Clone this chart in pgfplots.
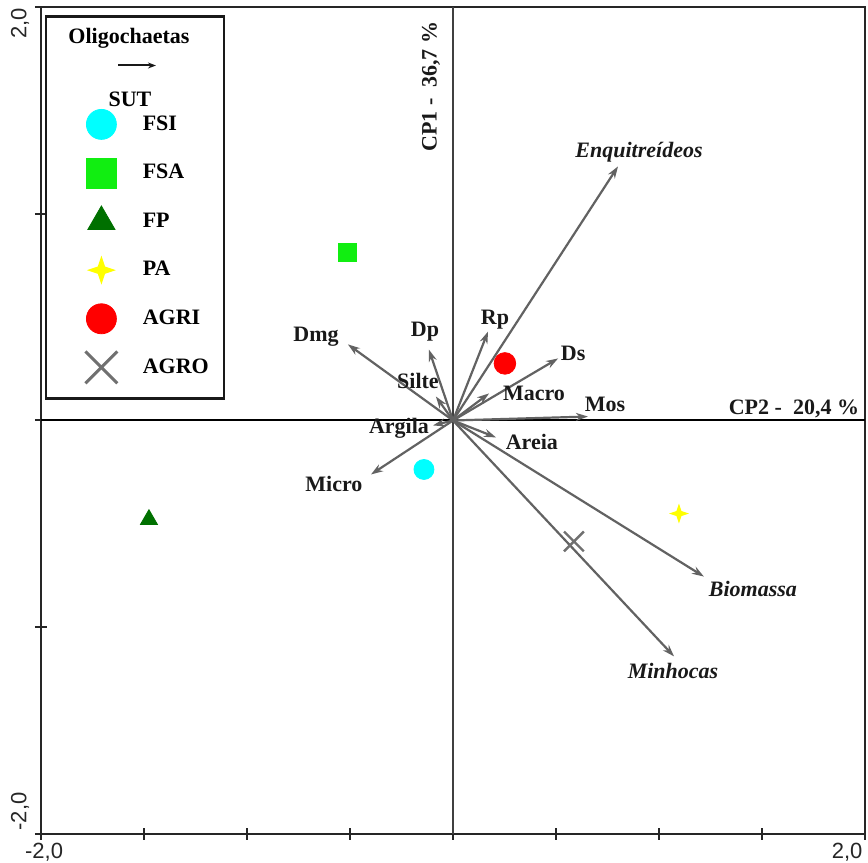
\documentclass[border=0pt]{standalone}
\usepackage{fontspec}
\setmainfont{Liberation Serif}
\setsansfont{Liberation Sans}
\usepackage{pgfplots}
\pgfplotsset{compat=1.18}
\usetikzlibrary{arrows.meta}
\definecolor{cFSI}{HTML}{00FFFF}
\definecolor{cFSA}{HTML}{11EE11}
\definecolor{cFP}{HTML}{007000}
\definecolor{cPA}{HTML}{FFFF00}
\definecolor{cAGRI}{HTML}{FF0000}
\definecolor{cAGRO}{HTML}{707070}
\definecolor{arr}{HTML}{626262}
\pgfdeclareplotmark{star4}{%
 \pgfpathmoveto{\pgfqpoint{0pt}{\pgfplotmarksize}}%
 \pgfpathlineto{\pgfqpoint{0.25\pgfplotmarksize}{0.25\pgfplotmarksize}}%
 \pgfpathlineto{\pgfqpoint{\pgfplotmarksize}{0pt}}%
 \pgfpathlineto{\pgfqpoint{0.25\pgfplotmarksize}{-0.25\pgfplotmarksize}}%
 \pgfpathlineto{\pgfqpoint{0pt}{-\pgfplotmarksize}}%
 \pgfpathlineto{\pgfqpoint{-0.25\pgfplotmarksize}{-0.25\pgfplotmarksize}}%
 \pgfpathlineto{\pgfqpoint{-\pgfplotmarksize}{0pt}}%
 \pgfpathlineto{\pgfqpoint{-0.25\pgfplotmarksize}{0.25\pgfplotmarksize}}%
 \pgfpathclose\pgfusepathqfill}
\newcommand{\lbl}{\fontsize{11}{13}\selectfont\bfseries}
\begin{document}
\begin{tikzpicture}
\begin{axis}[
  scale only axis, width=412pt, height=413.5pt,
  xmin=-2, xmax=2, ymin=-2, ymax=2,
  clip=false,
  axis line style={black!85, line width=1pt},
  xtick={-2,-1.5,...,2}, ytick={-2,-1,0,1,2},
  xticklabels={}, yticklabels={},
  tick pos=left, tick align=center, major tick length=6pt,
  tick style={black!85, line width=1pt},
  legend cell align=left,
  legend style={at={(rel axis cs:0,1)}, anchor=north west, xshift=20pt, yshift=-50.5pt,
    draw=none, fill=none, inner sep=0pt, outer sep=0pt, row sep=7.9pt, column sep=10.5pt,
    nodes={inner sep=0pt, anchor=west, font=\lbl}},
  legend image code/.code={\path (-10pt,-8pt) (10pt,8pt); \path[#1] plot coordinates {(0pt,0pt)};},
]
\addlegendimage{only marks, mark=*, mark size=7.5pt, color=cFSI}
\addlegendimage{only marks, mark=square*, mark size=7.5pt, color=cFSA}
\addlegendimage{only marks, mark=triangle*, mark size=7.8pt, color=cFP}
\addlegendimage{only marks, mark=star4, mark size=7.25pt, color=cPA}
\addlegendimage{only marks, mark=*, mark size=7.5pt, color=cAGRI}
\addlegendimage{only marks, mark=x, mark size=11.3pt, color=cAGRO, mark options={line width=1.5pt}}
\legend{FSI,FSA,FP,PA,AGRI,AGRO}

% legend frame and header
\draw[black!90, line width=1.2pt, fill=white] (axis cs:-1.976,1.954) rectangle (axis cs:-1.112,0.106);
\node[font=\lbl] at (axis cs:-1.573,1.848) {Oligochaetas};
\draw[black!90, line width=1pt, -{Stealth[length=4pt,width=3pt]}] (axis cs:-1.626,1.717) -- (axis cs:-1.442,1.717);
\node[font=\lbl] at (axis cs:-1.568,1.553) {SUT};

% central axes
\draw[black!75, line width=1pt] (axis cs:0,-2) -- (axis cs:0,2);
\draw[black, line width=1pt] (axis cs:-2,0) -- (axis cs:2,0);

% variable vectors
\addplot[forget plot, arr, line width=1.1pt, -{Stealth[length=6pt,width=4pt]},
  quiver={u=\thisrow{u}, v=\thisrow{v}}] table {
x y u v
0 0 0.801 1.229
0 0 1.218 -0.755
0 0 1.073 -1.141
0 0 -0.510 0.368
0 0 -0.117 0.343
0 0 0.170 0.430
0 0 0.510 0.300
0 0 0.175 0.131
0 0 0.655 0.019
0 0 -0.083 0.116
0 0 -0.097 -0.024
0 0 -0.398 -0.261
0 0 0.209 -0.082
};

% sites
\addplot[forget plot, only marks, mark=*, mark size=5pt, color=cFSI] coordinates {(-0.141,-0.237)};
\addplot[forget plot, only marks, mark=square*, mark size=4.5pt, color=cFSA] coordinates {(-0.515,0.813)};
\addplot[forget plot, only marks, mark=triangle*, mark size=4.9pt, color=cFP] coordinates {(-1.476,-0.479)};
\addplot[forget plot, only marks, mark=star4, mark size=5pt, color=cPA] coordinates {(1.097,-0.450)};
\addplot[forget plot, only marks, mark=*, mark size=5.4pt, color=cAGRI] coordinates {(0.252,0.276)};
\addplot[forget plot, only marks, mark=x, mark size=7pt, color=cAGRO, mark options={line width=1.2pt}] coordinates {(0.587,-0.585)};

% vector labels
\begin{scope}[every node/.style={font=\lbl, text=black!90, inner sep=0pt}]
\node[font=\lbl\itshape] at (axis cs:0.903,1.296) {Enquitreídeos};
\node[font=\lbl\itshape] at (axis cs:1.456,-0.813) {Biomassa};
\node[font=\lbl\itshape] at (axis cs:1.068,-1.214) {Minhocas};
\node at (axis cs:-0.665,0.406) {Dmg};
\node at (axis cs:-0.136,0.430) {Dp};
\node at (axis cs:0.204,0.489) {Rp};
\node at (axis cs:0.583,0.324) {Ds};
\node at (axis cs:0.393,0.131) {Macro};
\node at (axis cs:0.738,0.077) {Mos};
\node at (axis cs:-0.170,0.193) {Silte};
\node at (axis cs:-0.262,-0.039) {Argila};
\node at (axis cs:-0.578,-0.305) {Micro};
\node at (axis cs:0.383,-0.102) {Areia};
\node[rotate=90] at (axis cs:-0.107,1.615) {CP1 -\ \ 36,7 \%};
\node at (axis cs:1.655,0.058) {CP2 -\ \ 20,4 \%};
\end{scope}

% tick labels
\begin{scope}[every node/.style={font=\sffamily\fontsize{11}{13}\selectfont, text=black!85, inner sep=0pt}]
\node at (axis cs:-1.985,-2.089) {-2,0};
\node at (axis cs:1.913,-2.089) {2,0};
\node[rotate=90] at (axis cs:-2.102,1.92) {2,0};
\node[rotate=90] at (axis cs:-2.102,-1.891) {-2,0};
\end{scope}

\coordinate (SW) at (rel axis cs:0,0);
\coordinate (NE) at (rel axis cs:1,1);
\end{axis}
\pgfresetboundingbox
\path ([shift={(-20.5pt,-14.5pt)}]SW) rectangle ([shift={(1.5pt,3.5pt)}]NE);
\end{tikzpicture}
\end{document}
